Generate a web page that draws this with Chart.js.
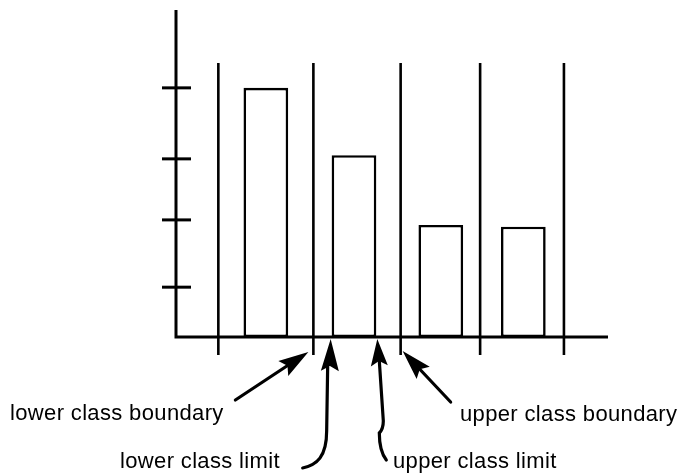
<!DOCTYPE html>
<html>
<head>
<meta charset="utf-8">
<script src="https://cdn.jsdelivr.net/npm/chart.js@4.4.1/dist/chart.umd.min.js"></script>
<style>
  html, body { margin: 0; padding: 0; background: #fff; }
  #wrap { width: 683px; height: 475px; }
</style>
</head>
<body>
<div id="wrap"><canvas id="histChart"></canvas></div>
<script>
// values (x in class units, y in frequency units)
var classBoundaries = [0.99, 2.09, 3.10, 4.02, 4.99];
var lowerClassLimits = [1.28, 2.29, 3.31, 4.27];
var upperClassLimits = [1.80, 2.83, 3.82, 4.77];
var frequencies = [4.0, 2.92, 1.80, 1.77];
var yTicks = [0.80, 1.88, 2.86, 4.0];

var labelTexts = ['lower class boundary', 'lower class limit', 'upper class limit', 'upper class boundary'];

// guide line extent for the boundaries
var boundaryTop = 4.4;
var boundaryBottom = -0.29;

var centers = lowerClassLimits.map(function (lo, i) { return (lo + upperClassLimits[i]) / 2; });

// bar width as a share of the closest bar spacing
var minGap = Infinity;
for (var i = 1; i < centers.length; i++) minGap = Math.min(minGap, centers[i] - centers[i - 1]);
var meanWidth = 0;
lowerClassLimits.forEach(function (lo, i) { meanWidth += (upperClassLimits[i] - lo) / lowerClassLimits.length; });

function arrowHead(ctx, fx, fy, tx, ty, len, half) {
    var a = Math.atan2(ty - fy, tx - fx);
    var c = Math.cos(a), s = Math.sin(a);
    var bx = tx - len * c, by = ty - len * s;
    var nx = tx - (len - 5) * c, ny = ty - (len - 5) * s;
    ctx.beginPath();
    ctx.moveTo(tx, ty);
    ctx.lineTo(bx - s * half, by + c * half);
    ctx.lineTo(nx, ny);
    ctx.lineTo(bx + s * half, by - c * half);
    ctx.closePath();
    ctx.fill();
}

var sketchPlugin = {
    id: 'sketch',
    afterDatasetsDraw: function (chart) {
        var ctx = chart.ctx;
        var xs = chart.scales.x, ys = chart.scales.y, area = chart.chartArea;
        var x0 = area.left, y0 = ys.getPixelForValue(0);

        ctx.save();
        ctx.strokeStyle = '#000';
        ctx.fillStyle = '#000';
        ctx.lineWidth = 3;

        // axes
        ctx.beginPath();
        ctx.moveTo(x0, area.top);
        ctx.lineTo(x0, y0);
        ctx.lineTo(area.right, y0);
        ctx.stroke();

        // y ticks crossing the axis
        yTicks.forEach(function (t) {
            var py = ys.getPixelForValue(t);
            ctx.beginPath();
            ctx.moveTo(x0 - 14, py);
            ctx.lineTo(x0 + 15, py);
            ctx.stroke();
        });

        ctx.lineWidth = 3.2;
        ctx.lineCap = 'round';

        // lower class boundary
        var t1x = xs.getPixelForValue(classBoundaries[1]) - 5, t1y = y0 + 15;
        ctx.beginPath();
        ctx.moveTo(t1x - 73, t1y + 48);
        ctx.lineTo(t1x - 20, t1y + 13);
        ctx.stroke();
        arrowHead(ctx, t1x - 73, t1y + 48, t1x, t1y, 30, 9);

        // lower class limit
        var t2x = xs.getPixelForValue(lowerClassLimits[1]), t2y = y0 + 2;
        ctx.beginPath();
        ctx.moveTo(t2x - 3, t2y + 28);
        ctx.lineTo(t2x - 4, t2y + 92);
        ctx.bezierCurveTo(t2x - 4, t2y + 118, t2x - 14, t2y + 126, t2x - 28, t2y + 129);
        ctx.stroke();
        arrowHead(ctx, t2x - 1, t2y + 40, t2x, t2y, 32, 9);

        // upper class limit
        var t3x = xs.getPixelForValue(upperClassLimits[1]), t3y = y0 + 2;
        ctx.beginPath();
        ctx.moveTo(t3x + 2, t3y + 22);
        ctx.lineTo(t3x + 6, t3y + 82);
        ctx.quadraticCurveTo(t3x + 6, t3y + 90, t3x + 2, t3y + 94);
        ctx.quadraticCurveTo(t3x + 2, t3y + 112, t3x + 9, t3y + 121);
        ctx.stroke();
        arrowHead(ctx, t3x + 3, t3y + 40, t3x, t3y, 27, 8.5);

        // upper class boundary
        var t4x = xs.getPixelForValue(classBoundaries[2]) + 2, t4y = y0 + 14;
        ctx.beginPath();
        ctx.moveTo(t4x + 48, t4y + 51);
        ctx.lineTo(t4x + 16, t4y + 17);
        ctx.stroke();
        arrowHead(ctx, t4x + 48, t4y + 51, t4x, t4y, 30, 9);

        // labels
        ctx.font = '22px "Liberation Sans", Arial, sans-serif';
        ctx.letterSpacing = '0.35px';
        ctx.textBaseline = 'alphabetic';
        ctx.textAlign = 'left';
        ctx.fillText(labelTexts[0], 10, 420);
        ctx.fillText(labelTexts[1], 120, 468);
        ctx.fillText(labelTexts[2], 393, 468);
        ctx.fillText(labelTexts[3], 460, 421);

        ctx.restore();
    }
};

var boundarySets = classBoundaries.map(function (b) {
    return {
        type: 'line',
        data: [{ x: b, y: boundaryTop }, { x: b, y: boundaryBottom }],
        borderColor: '#000',
        borderWidth: 2.6,
        pointRadius: 0,
        clip: false
    };
});

var ctx = document.getElementById('histChart').getContext('2d');
new Chart(ctx, {
    type: 'bar',
    data: {
        datasets: [{
            label: 'frequency',
            data: centers.map(function (c, i) { return { x: c, y: frequencies[i] }; }),
            backgroundColor: '#fff',
            borderColor: '#000',
            borderWidth: 2.6,
            borderSkipped: false,
            barPercentage: meanWidth / minGap,
            categoryPercentage: 1
        }].concat(boundarySets)
    },
    options: {
        responsive: true,
        maintainAspectRatio: false,
        animation: false,
        layout: { padding: { left: 176, top: 10, right: 75, bottom: 138 } },
        plugins: { legend: { display: false }, tooltip: { enabled: false } },
        scales: {
            x: {
                type: 'linear', min: 0.5, max: 5.5, offset: false, display: false,
                // no x ticks, so bar width follows the bar spacing only
                afterBuildTicks: function (scale) { scale.ticks = []; }
            },
            y: { type: 'linear', min: 0, max: 5.25, display: false }
        }
    },
    plugins: [sketchPlugin]
});
</script>
</body>
</html>
